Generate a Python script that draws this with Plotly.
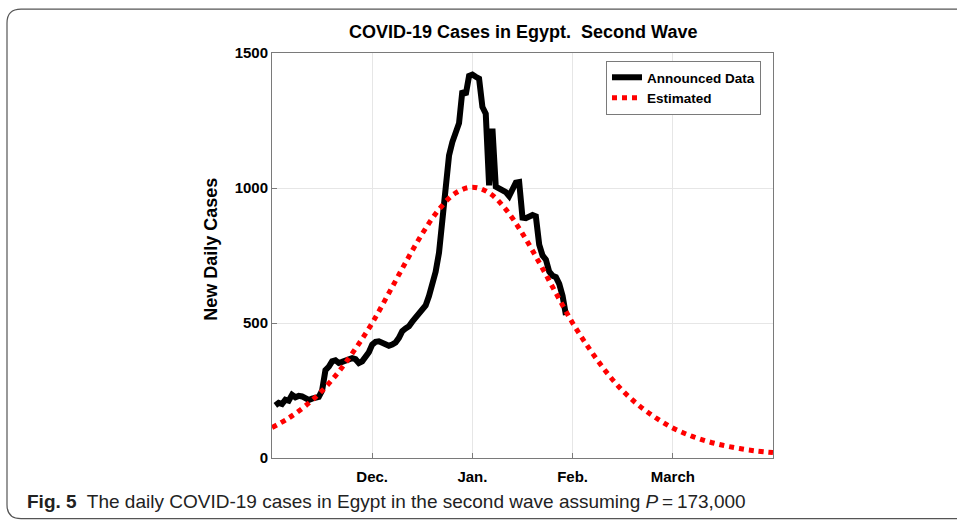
import plotly.graph_objects as go

# ---- data ----
ann_days = list(range(1, 89))
ann_cases = [195, 204, 200, 216, 212, 234, 225, 230, 228, 218,
             215, 220, 222, 226, 250, 325, 338, 358, 362, 352,
             356, 362, 364, 370, 366, 352, 358, 372, 392, 420,
             430, 432, 428, 424, 416, 420, 428, 445, 470, 480,
             488, 505, 520, 535, 550, 565, 600, 640, 690, 760,
             880, 1000, 1120, 1170, 1210, 1240, 1360, 1345, 1415, 1420,
             1412, 1405, 1300, 1275, 1010, 1220, 1005, 1000, 995, 985,
             970, 990, 1020, 1022, 890, 888, 895, 900, 895, 790,
             750, 735, 690, 675, 670, 645, 600, 530]

est_days = [0, 5, 10, 15, 20, 25, 30, 35, 40, 45, 50, 55, 60, 65, 70, 75,
            80, 85, 90, 95, 100, 105, 110, 115, 120, 125, 130, 135, 140, 145, 150]
est_cases = [113, 148, 193, 249, 320, 405, 500, 611, 724, 831, 921, 982, 1003,
             982, 921, 831, 724, 611, 500, 405, 320, 249, 193, 148, 111, 84, 63,
             47, 35, 26, 20]

x_tick_vals = [30, 60, 90, 120]
x_tick_text = ["Dec.", "Jan.", "Feb.", "March"]
y_tick_vals = [0, 500, 1000, 1500]

title_text = "COVID-19 Cases in Egypt.\u00a0 Second Wave"
caption_text = ("<b>Fig. 5</b>\u00a0 The daily COVID-19 cases in Egypt in the second wave "
                "assuming <i>P</i>\u2009=\u2009173,000")

# ---- layout geometry ----
W, H = 957, 523
L, R, T, B = 272, 773, 53, 458.3


def px(x):
    return (x - L) / (R - L)


def py(y):
    return (B - y) / (B - T)


FONT = "Liberation Sans, Arial, Helvetica, sans-serif"

fig = go.Figure()
fig.add_trace(go.Scatter(
    x=ann_days, y=ann_cases, mode="lines", name="Announced Data",
    line=dict(color="black", width=6), cliponaxis=True))
fig.add_trace(go.Scatter(
    x=est_days, y=est_cases, mode="lines", name="Estimated",
    line=dict(color="#ff0000", width=5, dash="dot", shape="spline")))

axis_common = dict(
    showline=True, mirror=True, linecolor="#7a7a7a", linewidth=1,
    showgrid=True, gridcolor="#e6e6e6", gridwidth=1,
    ticks="inside", ticklen=5, tickcolor="#7a7a7a", zeroline=False,
    tickfont=dict(family=FONT, size=15, color="black", weight="bold"),
)

fig.update_layout(
    width=W, height=H,
    margin=dict(l=L, r=W - R, t=T, b=H - B),
    paper_bgcolor="white", plot_bgcolor="white",
    showlegend=True,
    legend=dict(
        x=px(761), y=py(61), xanchor="right", yanchor="top",
        bgcolor="white", bordercolor="#7a7a7a", borderwidth=1,
        font=dict(family=FONT, size=13.5, color="black", weight="bold"),
        tracegroupgap=0, itemwidth=30,
    ),
    xaxis=dict(range=[0, 150], tickvals=x_tick_vals, ticktext=x_tick_text,
               ticklabelstandoff=5, **axis_common),
    yaxis=dict(range=[0, 1500], tickvals=y_tick_vals, **axis_common),
)

fig.add_annotation(
    text=title_text, x=0.5, y=py(32), xref="paper", yref="paper",
    xanchor="center", yanchor="middle", showarrow=False,
    font=dict(family=FONT, size=18, color="black", weight="bold"))

fig.add_annotation(
    text="New Daily Cases", x=px(211), y=py(250), xref="paper", yref="paper",
    xanchor="center", yanchor="middle", showarrow=False, textangle=-90,
    font=dict(family=FONT, size=18, color="black", weight="bold"))

fig.add_annotation(
    text=caption_text, x=px(25), y=py(502), xref="paper", yref="paper",
    xanchor="left", yanchor="middle", showarrow=False,
    font=dict(family="Liberation Sans Narrow, Liberation Sans, sans-serif",
              size=19, color="#222222"))

# rounded figure frame
x0, y0, x1, y1, r = 7, 9, 975, 519, 14
path = (f"M {px(x0)},{py(y0 + r)} "
        f"Q {px(x0)},{py(y0)} {px(x0 + r)},{py(y0)} "
        f"L {px(x1)},{py(y0)} "
        f"L {px(x1)},{py(y1)} "
        f"L {px(x0 + r)},{py(y1)} "
        f"Q {px(x0)},{py(y1)} {px(x0)},{py(y1 - r)} Z")
fig.add_shape(type="path", path=path, xref="paper", yref="paper",
              line=dict(color="#555555", width=1.2), layer="below")

fig.write_html("out.html")
